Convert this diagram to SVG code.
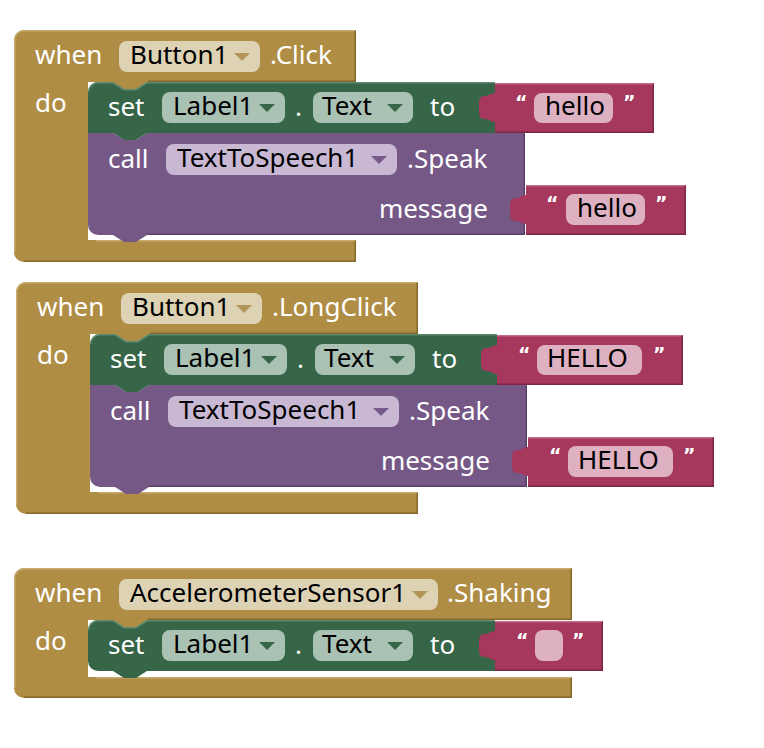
<svg xmlns="http://www.w3.org/2000/svg" width="764" height="748" viewBox="0 0 764 748">
<style>
text{font-family:"Noto Sans","Open Sans","DejaVu Sans",sans-serif;font-size:26px}
.w{fill:#fff}
.k{fill:#000}
.q{fill:#fff;font-family:"DejaVu Sans","Noto Sans",sans-serif;font-weight:bold;font-size:19px}
.gold{fill:#AF8D45}
.green{fill:#366548}
.purple{fill:#765886}
.red{fill:#A5385C}
.fg{fill:#DDD2B3}
.fgr{fill:#AAC2B4}
.fp{fill:#C9B8D3}
.ft{fill:#DDB0C2}
.ag{fill:#B3955A}
.agr{fill:#366548}
.ap{fill:#785A8A}
.e{fill:none;stroke-width:1.5}
.gl{stroke:#C6AA6E}.gd{stroke:#85692D}
.grl{stroke:#5F8A6E}
.pd{stroke:#5B4169}
.rl{stroke:#C46A89}.rd{stroke:#7E2744}
</style>
<g id="connectors"/>

<!-- Block 1 -->
<g id="event-button1-click">
<path class="gold" d="M14,40 A10,10 0 0 1 24,30 H356 V82 H147 L136,89 H124 L113,82 H88 V240 H356 V262 H24 A10,10 0 0 1 14,252 Z"/>
<path class="e gl" d="M14.75,252 V40 A9.25,9.25 0 0 1 24,30.75 H355 M96,240.75 H355"/>
<path class="e gd" d="M355.25,31 V81.25 H148 M355.25,241 V261.25 H24"/>
<text class="w" x="35" y="64">when</text>
<rect class="fg" x="119" y="41" width="141" height="31" rx="8"/>
<text class="k" x="130" y="64">Button1</text>
<path class="ag" d="M234,53 h16 l-8,8 z"/>
<text class="w" x="270" y="64">.Click</text>
<text class="w" x="35" y="112">do</text>

<g id="call-tts-speak-1">
<path class="purple" d="M88,133 H113 L124,140 H136 L147,133 H525 V235 H147 L136,242 H124 L113,235 H98 A10,10 0 0 1 88,225 Z"/>
<path class="e pd" d="M524.25,134 V234.25 H147"/>
<text class="w" x="108" y="168">call</text>
<rect class="fp" x="166" y="144" width="231" height="31" rx="8"/>
<text class="k" x="177" y="167">TextToSpeech1</text>
<path class="ap" d="M371,156 h16 l-8,8 z"/>
<text class="w" x="407" y="168">.Speak</text>
<text class="w" x="488" y="218" text-anchor="end">message</text>
<g id="text-hello-2">
<path class="red" d="M526,185 H686 V235 H526 V224 C521,224 521,221 516,221 C512,221 510,219 510,214 V206 C510,201 511,198 516,198 C521,198 521,195 526,195 Z"/>
<path class="e rl" d="M526,185.75 H685"/>
<path class="e rd" d="M685.25,186 V234.25 H526"/>
<text class="q" x="546" y="210">“</text>
<rect class="ft" x="566" y="194" width="79" height="31" rx="8"/>
<text class="k" x="577" y="217">hello</text>
<text class="q" x="655" y="210">”</text>
</g>
</g>

<g id="set-label1-text-1">
<path class="green" d="M88,92 A10,10 0 0 1 98,82 H113 L124,89 H136 L147,82 H495 V133 H147 L136,140 H124 L113,133 H88 Z"/>
<path class="e grl" d="M88.75,92 A9.25,9.25 0 0 1 98,82.75 H113 L124,89.75 H136 L147,82.75 H495"/>
<text class="w" x="108" y="116">set</text>
<rect class="fgr" x="162" y="92" width="123" height="31" rx="8"/>
<text class="k" x="173" y="115">Label1</text>
<path class="agr" d="M259,104 h16 l-8,8 z"/>
<text class="w" x="295" y="116">.</text>
<rect class="fgr" x="313" y="92" width="100" height="31" rx="8"/>
<text class="k" x="322" y="115">Text</text>
<path class="agr" d="M387,104 h16 l-8,8 z"/>
<text class="w" x="430" y="116">to</text>
<g id="text-hello-1">
<path class="red" d="M495,83 H654 V133 H495 V122 C490,122 490,119 485,119 C481,119 479,117 479,112 V104 C479,99 480,96 485,96 C490,96 490,93 495,93 Z"/>
<path class="e rl" d="M495,83.75 H653"/>
<path class="e rd" d="M653.25,84 V132.25 H495"/>
<text class="q" x="515" y="109">“</text>
<rect class="ft" x="534" y="93" width="79" height="30" rx="8"/>
<text class="k" x="545" y="115">hello</text>
<text class="q" x="623" y="109">”</text>
</g>
</g>
</g>

<!-- Block 2 -->
<g id="event-button1-longclick" transform="translate(2,252)">
<path class="gold" d="M14,40 A10,10 0 0 1 24,30 H416 V82 H147 L136,89 H124 L113,82 H88 V240 H416 V262 H24 A10,10 0 0 1 14,252 Z"/>
<path class="e gl" d="M14.75,252 V40 A9.25,9.25 0 0 1 24,30.75 H415 M96,240.75 H415"/>
<path class="e gd" d="M415.25,31 V81.25 H148 M415.25,241 V261.25 H24"/>
<text class="w" x="35" y="64">when</text>
<rect class="fg" x="119" y="41" width="141" height="31" rx="8"/>
<text class="k" x="130" y="64">Button1</text>
<path class="ag" d="M234,53 h16 l-8,8 z"/>
<text class="w" x="270" y="64">.LongClick</text>
<text class="w" x="35" y="112">do</text>

<g id="call-tts-speak-2">
<path class="purple" d="M88,133 H113 L124,140 H136 L147,133 H525 V235 H147 L136,242 H124 L113,235 H98 A10,10 0 0 1 88,225 Z"/>
<path class="e pd" d="M524.25,134 V234.25 H147"/>
<text class="w" x="108" y="168">call</text>
<rect class="fp" x="166" y="144" width="231" height="31" rx="8"/>
<text class="k" x="177" y="167">TextToSpeech1</text>
<path class="ap" d="M371,156 h16 l-8,8 z"/>
<text class="w" x="407" y="168">.Speak</text>
<text class="w" x="488" y="218" text-anchor="end">message</text>
<g id="text-HELLO-2">
<path class="red" d="M526,185 H712 V235 H526 V224 C521,224 521,221 516,221 C512,221 510,219 510,214 V206 C510,201 511,198 516,198 C521,198 521,195 526,195 Z"/>
<path class="e rl" d="M526,185.75 H711"/>
<path class="e rd" d="M711.25,186 V234.25 H526"/>
<text class="q" x="547" y="210">“</text>
<rect class="ft" x="566" y="194" width="105" height="31" rx="8"/>
<text class="k" x="576" y="217">HELLO</text>
<text class="q" x="681" y="210">”</text>
</g>
</g>

<g id="set-label1-text-2">
<path class="green" d="M88,92 A10,10 0 0 1 98,82 H113 L124,89 H136 L147,82 H495 V133 H147 L136,140 H124 L113,133 H88 Z"/>
<path class="e grl" d="M88.75,92 A9.25,9.25 0 0 1 98,82.75 H113 L124,89.75 H136 L147,82.75 H495"/>
<text class="w" x="108" y="116">set</text>
<rect class="fgr" x="162" y="92" width="123" height="31" rx="8"/>
<text class="k" x="173" y="115">Label1</text>
<path class="agr" d="M259,104 h16 l-8,8 z"/>
<text class="w" x="295" y="116">.</text>
<rect class="fgr" x="313" y="92" width="100" height="31" rx="8"/>
<text class="k" x="322" y="115">Text</text>
<path class="agr" d="M387,104 h16 l-8,8 z"/>
<text class="w" x="430" y="116">to</text>
<g id="text-HELLO-1">
<path class="red" d="M495,83 H681 V133 H495 V122 C490,122 490,119 485,119 C481,119 479,117 479,112 V104 C479,99 480,96 485,96 C490,96 490,93 495,93 Z"/>
<path class="e rl" d="M495,83.75 H680"/>
<path class="e rd" d="M680.25,84 V132.25 H495"/>
<text class="q" x="516" y="109">“</text>
<rect class="ft" x="535" y="93" width="105" height="30" rx="8"/>
<text class="k" x="545" y="115">HELLO</text>
<text class="q" x="651" y="109">”</text>
</g>
</g>
</g>

<!-- Block 3 -->
<g id="event-accelerometer-shaking" transform="translate(0,538)">
<path class="gold" d="M14,40 A10,10 0 0 1 24,30 H572 V82 H147 L136,89 H124 L113,82 H88 V139 H572 V160 H24 A10,10 0 0 1 14,150 Z"/>
<path class="e gl" d="M14.75,150 V40 A9.25,9.25 0 0 1 24,30.75 H571 M96,139.75 H571"/>
<path class="e gd" d="M571.25,31 V81.25 H148 M571.25,140 V159.25 H24"/>
<text class="w" x="35" y="64">when</text>
<rect class="fg" x="119" y="41" width="319" height="31" rx="8"/>
<text class="k" x="130" y="64">AccelerometerSensor1</text>
<path class="ag" d="M412,53 h16 l-8,8 z"/>
<text class="w" x="447" y="64">.Shaking</text>
<text class="w" x="35" y="112">do</text>

<g id="set-label1-text-3">
<path class="green" d="M88,92 A10,10 0 0 1 98,82 H113 L124,89 H136 L147,82 H495 V133 H147 L136,140 H124 L113,133 H98 A10,10 0 0 1 88,123 Z"/>
<path class="e grl" d="M88.75,92 A9.25,9.25 0 0 1 98,82.75 H113 L124,89.75 H136 L147,82.75 H495"/>
<text class="w" x="108" y="116">set</text>
<rect class="fgr" x="162" y="92" width="123" height="31" rx="8"/>
<text class="k" x="173" y="115">Label1</text>
<path class="agr" d="M259,104 h16 l-8,8 z"/>
<text class="w" x="295" y="116">.</text>
<rect class="fgr" x="313" y="92" width="100" height="31" rx="8"/>
<text class="k" x="322" y="115">Text</text>
<path class="agr" d="M387,104 h16 l-8,8 z"/>
<text class="w" x="430" y="116">to</text>
<g id="text-empty">
<path class="red" d="M495,83 H603 V133 H495 V122 C490,122 490,119 485,119 C481,119 479,117 479,112 V104 C479,99 480,96 485,96 C490,96 490,93 495,93 Z"/>
<path class="e rl" d="M495,83.75 H602"/>
<path class="e rd" d="M602.25,84 V132.25 H495"/>
<text class="q" x="516" y="109">“</text>
<rect class="ft" x="535" y="92" width="28" height="31" rx="8"/>
<text class="q" x="572" y="109">”</text>
</g>
</g>
</g>
</svg>
